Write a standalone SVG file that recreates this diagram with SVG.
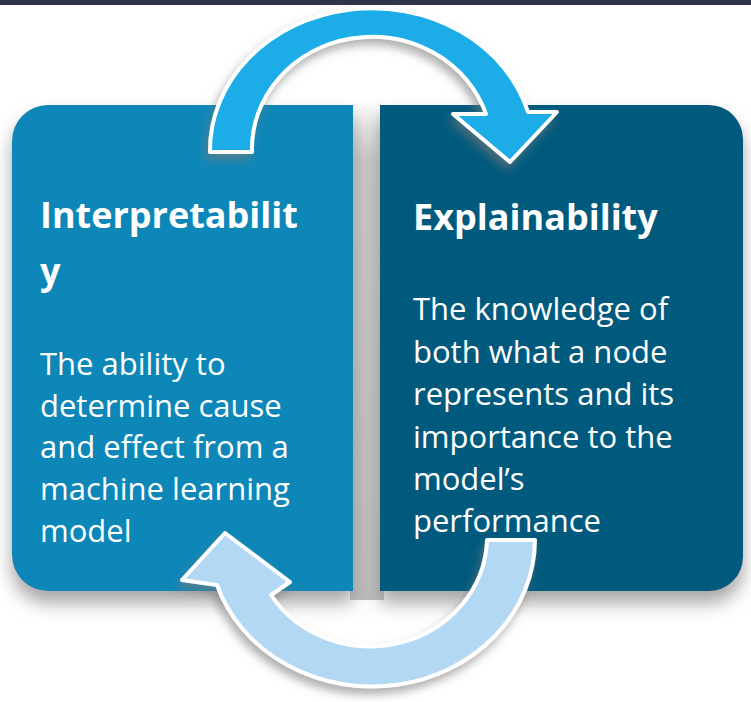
<svg xmlns="http://www.w3.org/2000/svg" width="751" height="702" viewBox="0 0 751 702">
  <defs>
    <style>
      .title { font-family: "Open Sans", "Noto Sans", sans-serif; font-weight: 700; font-size: 36px; fill: #ffffff; }
      .body { font-family: "Open Sans", "Noto Sans", sans-serif; font-weight: 400; font-size: 31px; fill: #ffffff; }
      .arrow { stroke: #ffffff; stroke-width: 4; stroke-linejoin: round; }
    </style>
    <filter id="boxShadow" x="-10%" y="-10%" width="120%" height="130%">
      <feGaussianBlur in="SourceAlpha" stdDeviation="9"/>
      <feOffset dx="0" dy="12" result="b"/>
      <feFlood flood-color="#8a8888" flood-opacity="0.75"/>
      <feComposite in2="b" operator="in"/>
      <feMerge><feMergeNode/><feMergeNode in="SourceGraphic"/></feMerge>
    </filter>
    <filter id="arrowShadow" x="-15%" y="-15%" width="130%" height="140%">
      <feGaussianBlur in="SourceAlpha" stdDeviation="5"/>
      <feOffset dx="-3" dy="6" result="b"/>
      <feFlood flood-color="#7a7878" flood-opacity="0.6"/>
      <feComposite in2="b" operator="in"/>
      <feMerge><feMergeNode/><feMergeNode in="SourceGraphic"/></feMerge>
    </filter>
    <linearGradient id="gap" x1="0" y1="0" x2="0" y2="1">
      <stop offset="0" stop-color="#ffffff"/>
      <stop offset="0.12" stop-color="#c9c8c8"/>
      <stop offset="1" stop-color="#bdbcbc"/>
    </linearGradient>
  </defs>

  <rect x="0" y="0" width="751" height="702" fill="#ffffff"/>
  <rect x="0" y="0" width="751" height="5" fill="#2e3447"/>

  <!-- gap between boxes -->
  <rect x="350" y="100" width="34" height="500" fill="url(#gap)"/>

  <g id="node-interpretability">
    <path d="M 48 105 L 353 105 L 353 591 L 48 591 A 36 36 0 0 1 12 555 L 12 141 A 36 36 0 0 1 48 105 Z" fill="#0787b8" filter="url(#boxShadow)"/>
  </g>
  <g id="node-explainability">
    <path d="M 380 105 L 709 105 A 34 34 0 0 1 743 139 L 743 557 A 34 34 0 0 1 709 591 L 380 591 Z" fill="#045a7d" filter="url(#boxShadow)"/>
  </g>

  <g id="connectors">
    <path class="arrow" filter="url(#arrowShadow)" fill="#1aace8"
          d="M 210 152 A 162 142 0 0 1 528 112 L 557 112 L 510 162 L 453 114 L 486 114 A 120 112 0 0 0 252 152 Z"/>
    <path class="arrow" filter="url(#arrowShadow)" fill="#b3d8f4"
          d="M 535 540 A 163 147 0 0 1 217 585 L 182 580 L 225 533 L 290 582 L 271 595 A 117 110 0 0 0 487 540 Z"/>
  </g>

  <g id="text-interpretability">
    <text class="title" x="40" y="228">Interpretabilit</text>
    <text class="title" x="40" y="284">y</text>
    <text class="body" x="40" y="375">The ability to</text>
    <text class="body" x="40" y="417">determine cause</text>
    <text class="body" x="40" y="458">and effect from a</text>
    <text class="body" x="40" y="500">machine learning</text>
    <text class="body" x="40" y="542">model</text>
  </g>
  <g id="text-explainability">
    <text class="title" x="413" y="230">Explainability</text>
    <text class="body" x="413" y="320">The knowledge of</text>
    <text class="body" x="413" y="363">both what a node</text>
    <text class="body" x="413" y="405">represents and its</text>
    <text class="body" x="413" y="448">importance to the</text>
    <text class="body" x="413" y="490">model’s</text>
    <text class="body" x="413" y="532">performance</text>
  </g>
</svg>
